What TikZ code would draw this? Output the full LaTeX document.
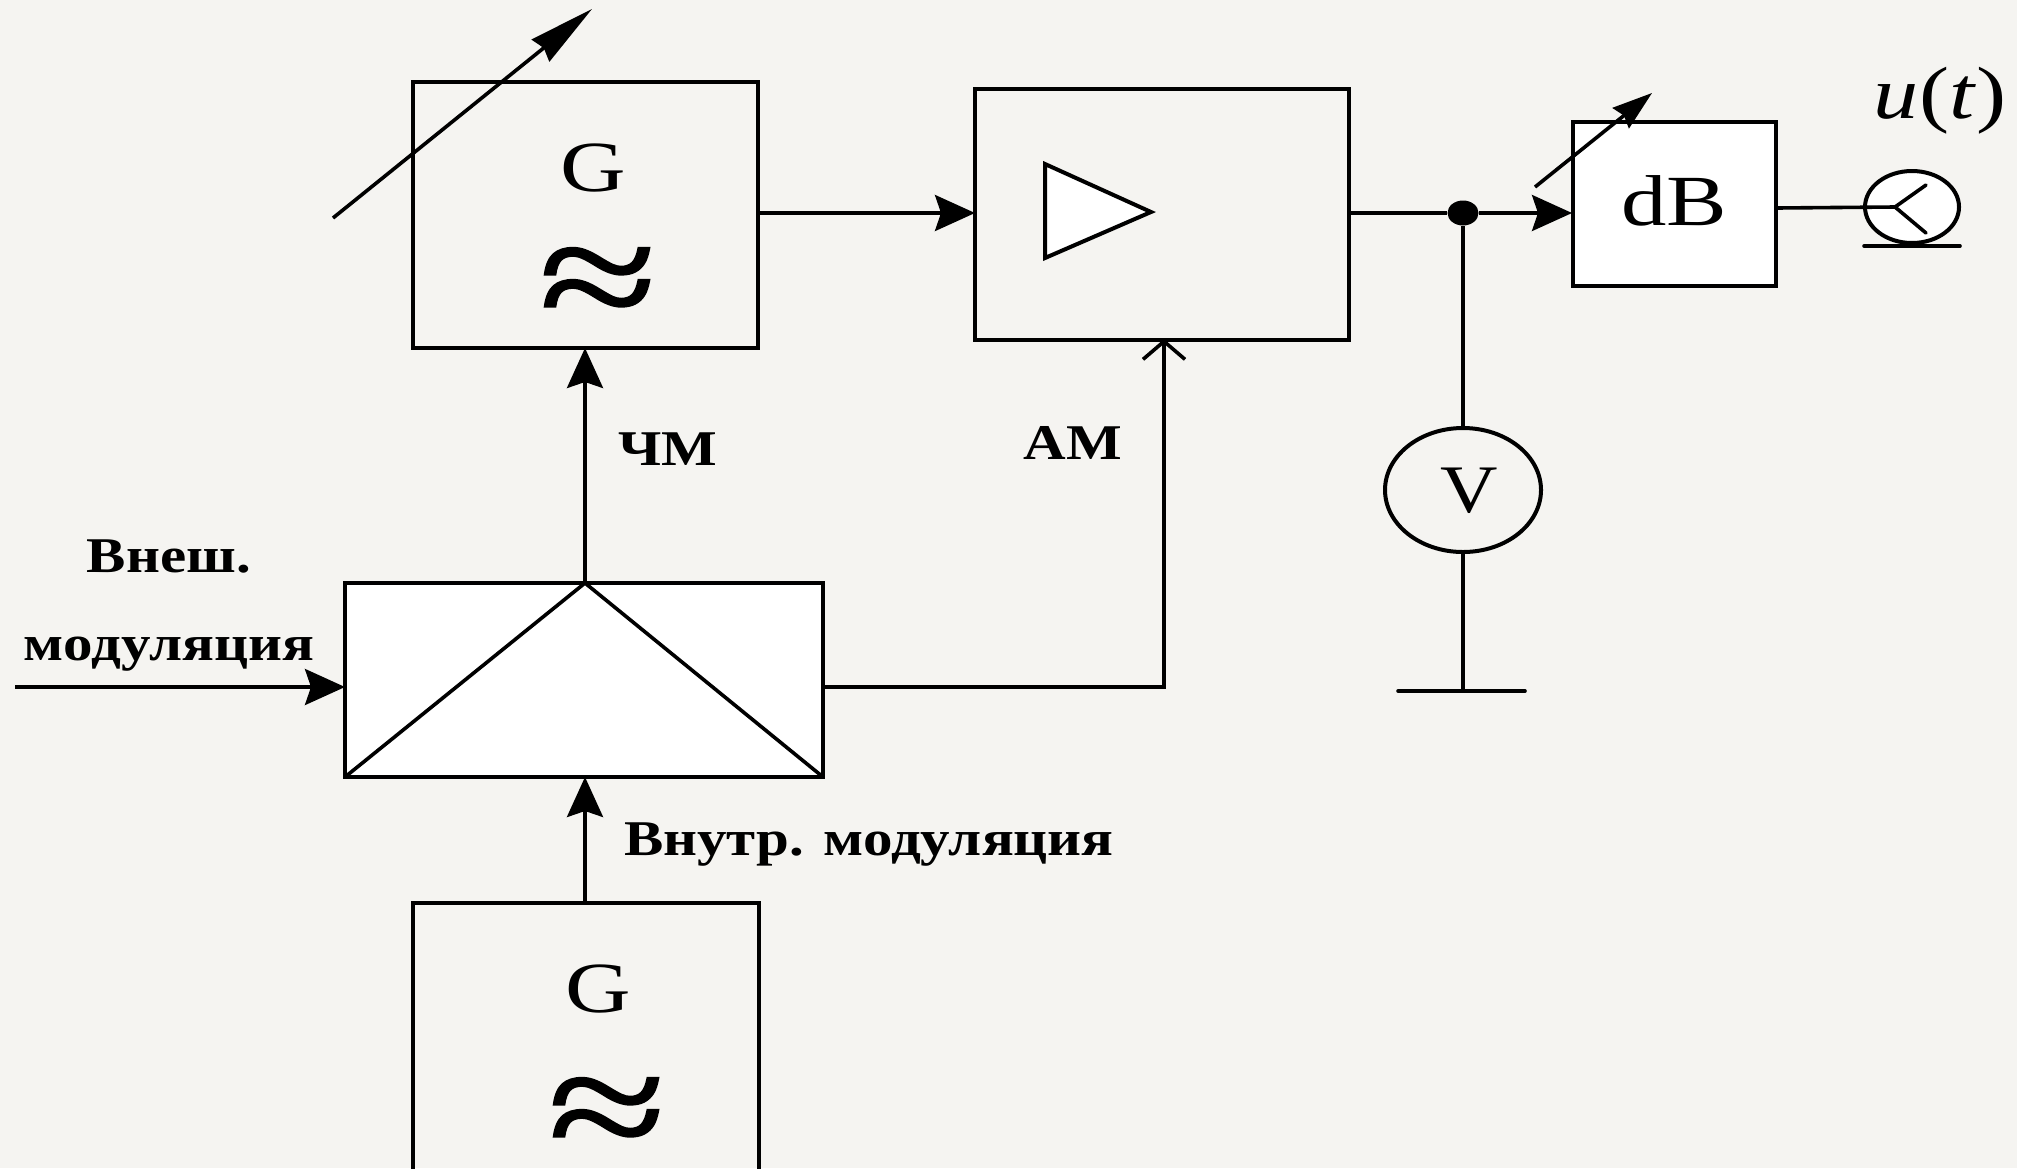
\documentclass[tikz,border=0pt]{standalone}
\usepackage{fontspec}
\setmainfont{Liberation Serif}
\newfontfamily\widelab[FakeStretch=1.18]{Liberation Serif}
\newfontfamily\widesym[FakeStretch=1.26]{Liberation Serif}
\newfontfamily\widev[FakeStretch=1.17]{Liberation Serif}
\newfontfamily\widewave[FakeStretch=1.35,FakeBold=1.2]{Liberation Serif}
\newfontfamily\wideut[FakeStretch=1.22]{Liberation Serif}
\usetikzlibrary{arrows.meta,shapes.geometric}
\definecolor{paper}{HTML}{F5F4F1}
\tikzset{
  x=0.5pt,y=-0.5pt,
  wire/.style={draw=black,line width=1.8pt},
  tipped/.style={wire,-{Stealth[length=20pt,width=18pt,inset=3pt]}},
  knobbig/.style={wire,-{Stealth[length=33pt,width=14pt,inset=2pt]}},
  knobsmall/.style={wire,-{Stealth[length=20pt,width=13pt,inset=2pt]}},
  opentip/.style={wire,-{Straight Barb[length=9pt,width=21pt]}},
  blockw/.style={draw=black,line width=2pt,fill=white,line join=miter},
  blockp/.style={draw=black,line width=2pt,line join=miter},
  lab/.style={inner sep=0pt,font=\widelab\fontsize{25}{25}\selectfont\bfseries},
  sym/.style={inner sep=0pt,font=\widesym\fontsize{36}{36}\selectfont},
  wave/.style={inner sep=0pt,font=\widewave\fontsize{80}{80}\selectfont}
}
\begin{document}
\begin{tikzpicture}
\useasboundingbox (0,0) rectangle (2017,1168);
\fill[paper] (0,0) rectangle (2017,1168);
% blocks
\draw[blockp] (413,82) rectangle (758,348);
\draw[blockp] (975,89) rectangle (1349,340);
\draw[blockw] (1573,122) rectangle (1776,286);
\draw[blockw] (345,583) rectangle (823,777);
\draw[blockp] (413,903) rectangle (759,1180);
\coordinate (gtop) at (585,348);
\coordinate (apex) at (585,583);
\coordinate (mbl) at (345,777);
\coordinate (mbr) at (823,777);
\coordinate (mbot) at (585,777);
\coordinate (mleft) at (345,687);
\coordinate (mright) at (823,687);
\coordinate (gbtop) at (585,903);
\coordinate (extin) at (15,687);
\coordinate (amin) at (1164,339);
\coordinate (amcorner) at (1164,687);
\coordinate (gout) at (758,213);
\coordinate (ampin) at (975,213);
\coordinate (ampout) at (1349,213);
\coordinate (dbin) at (1572,213);
\coordinate (dbout) at (1776,208);
\coordinate (k1a) at (333,218);
\coordinate (k1b) at (592,9);
\coordinate (k2a) at (1535,187);
\coordinate (k2b) at (1652,93);
\coordinate (gnd) at (1463,691);
\coordinate (gndl) at (1398,691);
\coordinate (gndr) at (1525,691);
\coordinate (tl) at (1045,164);
\coordinate (tb) at (1045,258);
\coordinate (tr) at (1151,212);
\coordinate (headc) at (1895,207);
\coordinate (heada) at (1926,185);
\coordinate (headb) at (1926,233);
\coordinate (basel) at (1864,246);
\coordinate (baser) at (1960,246);
% round elements
\node[draw=black,line width=2pt,ellipse,minimum width=78pt,minimum height=62pt,inner sep=0pt] (vm) at (1463,490) {};
\node[draw=black,line width=2pt,fill=white,ellipse,minimum width=47pt,minimum height=36pt,inner sep=0pt] (head) at (1912,207) {};
\node[fill=black,ellipse,minimum width=15.5pt,minimum height=12.5pt,inner sep=0pt] (dot) at (1463,213) {};
% internal symbols
\draw[blockw] (tl) -- (tr) -- (tb) -- cycle;
\draw[wire] (mbl) -- (apex) -- (mbr);
\draw[wire] (dbout) -- (headc);
\draw[wire,line cap=round] (heada) -- (headc) -- (headb);
\draw[wire,line cap=round] (basel) -- (baser);
% connectors
\draw[tipped] (apex) -- (gtop);
\draw[tipped] (gbtop) -- (mbot);
\draw[tipped] (extin) -- (mleft);
\draw[tipped] (gout) -- (ampin);
\draw[wire] (ampout) -- (dot);
\draw[tipped] (dot) -- (dbin);
\draw[wire] (dot) -- (vm);
\draw[wire] (vm) -- (gnd);
\draw[wire,line cap=round] (gndl) -- (gndr);
\draw[opentip] (mright) -- (amcorner) -- (amin);
\draw[knobbig] (k1a) -- (k1b);
\draw[knobsmall] (k2a) -- (k2b);
% texts
\node[sym] (g1) at (593,168) {G};
\node[wave] (w1) at (598,289) {≈};
\node[sym] (g2) at (598,989) {G};
\node[wave] (w2) at (607,1119) {≈};
\node[sym] (db) at (1674,201) {dB};
\node[inner sep=0pt,font=\widev\fontsize{34}{34}\selectfont] (vt) at (1469,491) {V};
\node[inner sep=0pt,font=\wideut\fontsize{37}{37}\selectfont] (ut) at (1940,101) {\textit{u}(\textit{t})};
\node[lab] (l1) at (169,556) {Внеш.};
\node[lab] (l2) at (169,654) {модуляция};
\node[lab] (l3) at (869,845) {Внутр. модуляция};
\node[lab] (l4) at (668,449) {ЧМ};
\node[lab] (l5) at (1073,443) {АМ};
\end{tikzpicture}
\end{document}
